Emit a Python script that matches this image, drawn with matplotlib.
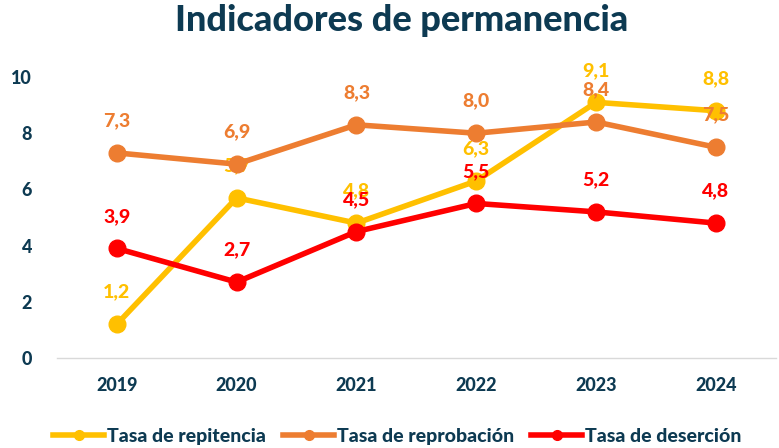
import matplotlib
matplotlib.use("Agg")
import matplotlib.pyplot as plt
from matplotlib.lines import Line2D

years = ["2019", "2020", "2021", "2022", "2023", "2024"]
repitencia = [1.2, 5.7, 4.8, 6.3, 9.1, 8.8]
reprobacion = [7.3, 6.9, 8.3, 8.0, 8.4, 7.5]
desercion = [3.9, 2.7, 4.5, 5.5, 5.2, 4.8]
series_names = ["Tasa de repitencia", "Tasa de reprobación", "Tasa de deserción"]
yticks = [0, 2, 4, 6, 8, 10]

colors = ["#FFC000", "#ED7D31", "#FF0000"]
navy = "#0D3A52"
plt.rcParams['font.family'] = ['Lato', 'DejaVu Sans']
W = 'black'

fig = plt.figure(figsize=(7.79, 4.48), dpi=100)
ax = fig.add_axes([0.073, 0.201, 0.923, 0.627])
x = list(range(len(years)))
handles = []
for i, (vals, c, name) in enumerate(zip([repitencia, reprobacion, desercion], colors, series_names)):
    z = 3 + i * 2
    ax.plot(x, vals, color=c, lw=4, marker='o', ms=12, zorder=z, solid_capstyle='round')
    for xi, v in zip(x, vals):
        ax.annotate(f"{v:.1f}".replace('.', ','), (xi, v), xytext=(0, 17), textcoords='offset points',
                    ha='center', va='bottom', color=c, fontsize=14, fontweight=W, zorder=z + 1)
    handles.append(Line2D([0], [0], color=c, lw=4, marker='o', ms=7))

ax.set_xlim(-0.5, len(years) - 0.5)
ax.set_ylim(0, 10)
ax.set_yticks(yticks)
ax.set_yticklabels([str(t) for t in yticks])
ax.set_xticks(x)
ax.set_xticklabels(years)
for lab in ax.get_xticklabels() + ax.get_yticklabels():
    lab.set_fontweight(W)
    lab.set_color(navy)
    lab.set_fontsize(13)
ax.tick_params(axis='both', length=0)
ax.tick_params(axis='x', pad=14)
ax.tick_params(axis='y', pad=18)
for s in ['top', 'right', 'left']:
    ax.spines[s].set_visible(False)
ax.spines['bottom'].set_color('#D9D9D9')
ax.spines['bottom'].set_linewidth(1)

fig.text(0.515, 0.955, "Indicadores de permanencia", ha='center', va='center',
         fontsize=26, fontweight=W, color=navy)
leg = fig.legend(handles, series_names, loc='center', bbox_to_anchor=(0.51, 0.025), ncol=3,
                 frameon=False, prop={'weight': W, 'size': 14, 'family': ['Lato', 'DejaVu Sans']},
                 handlelength=2.6, handletextpad=0.15, columnspacing=0.9)
for t in leg.get_texts():
    t.set_color(navy)

fig.savefig("out.png", dpi=100)
